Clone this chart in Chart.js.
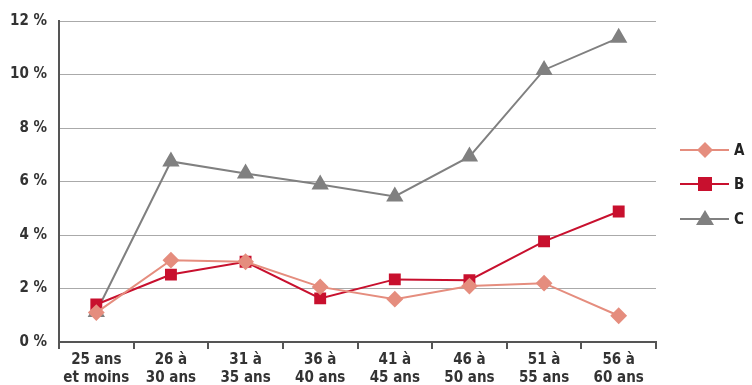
<!DOCTYPE html>
<html>
<head>
<meta charset="utf-8">
<script src="https://cdn.jsdelivr.net/npm/chart.js@4"></script>
<style>
  html, body { margin: 0; padding: 0; background: #fff; }
  #wrap { width: 752px; height: 385px; }
</style>
</head>
<body>
<div id="wrap"><canvas id="myChart"></canvas></div>
<script>
const categories = [
  ['25 ans', 'et moins'], ['26 à', '30 ans'], ['31 à', '35 ans'], ['36 à', '40 ans'],
  ['41 à', '45 ans'], ['46 à', '50 ans'], ['51 à', '55 ans'], ['56 à', '60 ans']
];
const serieA = [1.1, 3.06, 3.0, 2.06, 1.6, 2.09, 2.2, 0.98];
const serieB = [1.4, 2.52, 3.0, 1.63, 2.34, 2.31, 3.76, 4.88];
const serieC = [1.12, 6.75, 6.3, 5.89, 5.44, 6.93, 10.17, 11.37];
const yTicks = [0, 2, 4, 6, 8, 10, 12];

const police = "'Liberation Sans Narrow', 'DejaVu Sans Condensed', sans-serif";

// legende dessinee a la main a droite
const legendeDroite = {
  id: 'legendeDroite',
  afterDraw(chart) {
    const ctx = chart.ctx;
    const ys = [150, 184, 219];
    chart.data.datasets.forEach((ds, i) => {
      const y = ys[i];
      ctx.save();
      ctx.strokeStyle = ds.borderColor;
      ctx.lineWidth = 2;
      ctx.beginPath();
      ctx.moveTo(680, y);
      ctx.lineTo(729, y);
      ctx.stroke();
      ctx.fillStyle = ds.pointBackgroundColor;
      ctx.beginPath();
      if (ds.pointStyle === 'rectRot') {
        ctx.moveTo(705, y - 8); ctx.lineTo(713, y); ctx.lineTo(705, y + 8); ctx.lineTo(697, y);
      } else if (ds.pointStyle === 'rect') {
        ctx.rect(698, y - 7, 14, 14);
      } else {
        ctx.moveTo(705, y - 9); ctx.lineTo(714, y + 6); ctx.lineTo(696, y + 6);
      }
      ctx.closePath();
      ctx.fill();
      ctx.fillStyle = '#222';
      ctx.font = 'bold 15px ' + police;
      ctx.textBaseline = 'middle';
      ctx.textAlign = 'left';
      ctx.fillText(ds.label, 734, y + 1);
      ctx.restore();
    });
  }
};

const data = {
  labels: categories,
  datasets: [
    {
      label: 'A', data: serieA, borderColor: '#e58d7e', backgroundColor: '#e58d7e',
      pointBackgroundColor: '#e58d7e', pointBorderColor: '#e58d7e',
      pointStyle: 'rectRot', pointRadius: 7, borderWidth: 2
    },
    {
      label: 'B', data: serieB, borderColor: '#c8102e', backgroundColor: '#c8102e',
      pointBackgroundColor: '#c8102e', pointBorderColor: '#c8102e',
      pointStyle: 'rect', pointRadius: 7, borderWidth: 2
    },
    {
      label: 'C', data: serieC, borderColor: '#808080', backgroundColor: '#808080',
      pointBackgroundColor: '#808080', pointBorderColor: '#808080',
      pointStyle: 'triangle', pointRadius: 8, borderWidth: 2
    }
  ]
};

const config = {
  type: 'line',
  data: data,
  plugins: [legendeDroite],
  options: {
    responsive: true,
    maintainAspectRatio: false,
    animation: false,
    layout: { padding: { top: 12, right: 96, left: 0, bottom: 0 } },
    plugins: { legend: { display: false }, tooltip: { enabled: false } },
    scales: {
      x: {
        offset: true,
        grid: { offset: true, drawOnChartArea: false, color: '#555', tickLength: 7, lineWidth: 2 },
        border: { color: '#555', width: 2 },
        ticks: {
          color: '#333', padding: 2, maxRotation: 0, autoSkip: false,
          font: { family: police, weight: 'bold', size: 15, lineHeight: 1.2 }
        },
        afterFit(scale) { scale.height = 43; }
      },
      y: {
        min: 0, max: 12,
        afterBuildTicks(scale) { scale.ticks = yTicks.map(v => ({ value: v })); },
        grid: { color: '#aaa', lineWidth: 1, drawTicks: false },
        border: { color: '#555', width: 2 },
        ticks: {
          color: '#333', padding: 12,
          font: { family: police, weight: 'bold', size: 15 },
          callback: (v) => v + ' %'
        },
        afterFit(scale) { scale.width = 59; }
      }
    }
  }
};

const myChart = new Chart(document.getElementById('myChart'), config);
</script>
</body>
</html>
